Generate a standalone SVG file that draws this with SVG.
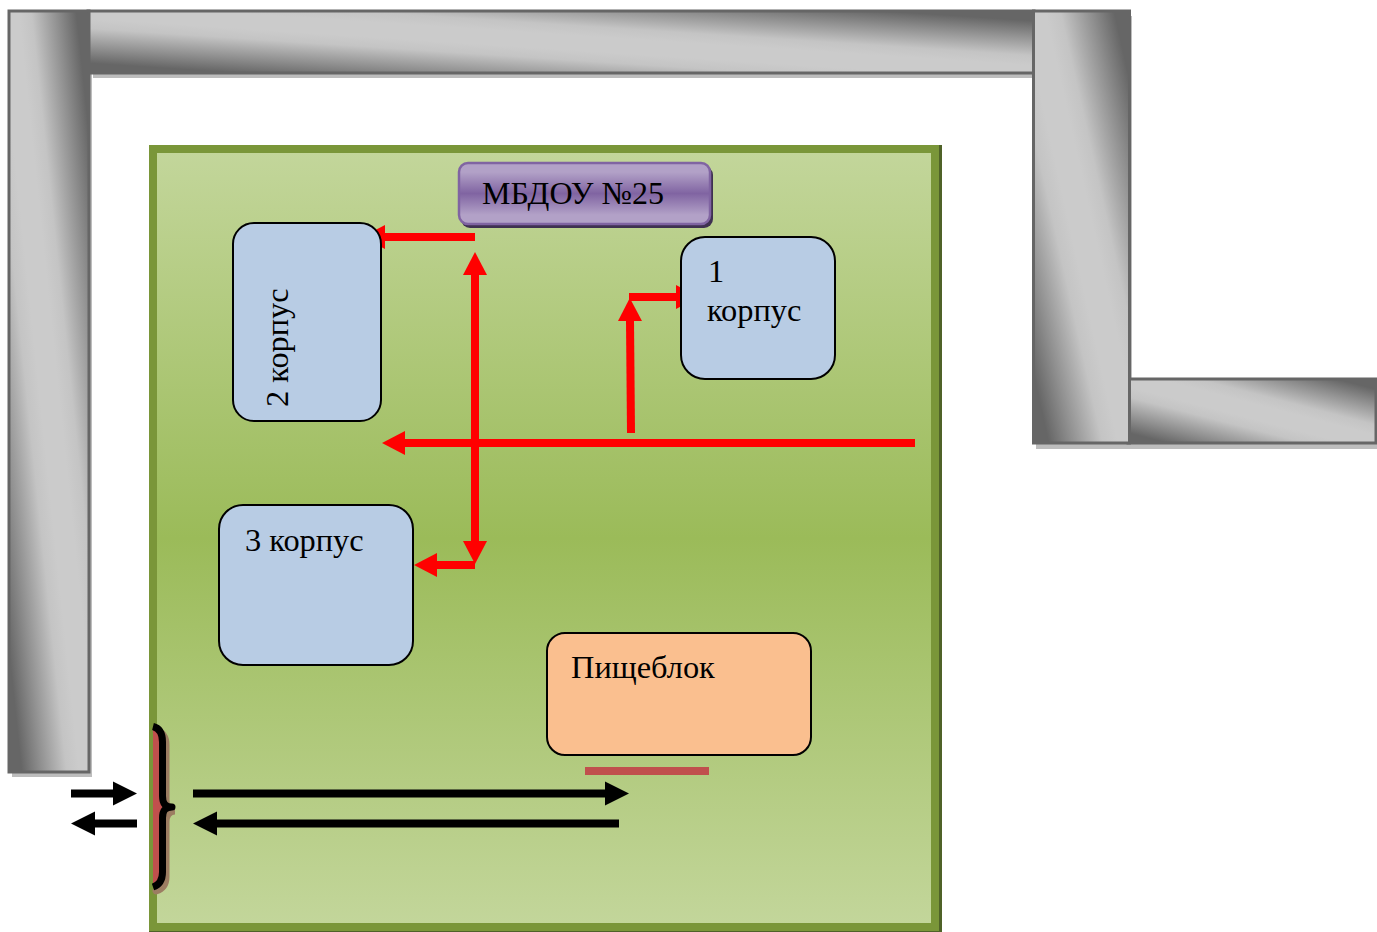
<svg xmlns="http://www.w3.org/2000/svg" width="1377" height="932" viewBox="0 0 1377 932">
<style>
.wall{fill:url(#metal);stroke:#666;stroke-width:3}
.shadow{fill:#bdbdbd}
.box{stroke:#000;stroke-width:2}
.blue{fill:#b8cce4}
.t{font-family:"Liberation Serif","Noto Sans CJK SC",serif;font-size:32.400px;fill:#000}
.red{fill:none;stroke:#f00;stroke-width:8;marker-end:url(#rh)}
.blk{fill:none;stroke:#000;stroke-width:8;marker-end:url(#bh)}
</style>
<defs>
<linearGradient id="metal" x1="0" y1="1" x2="1" y2="0">
<stop offset="0.08" stop-color="#666"/><stop offset="0.2" stop-color="#8f8f8f"/><stop offset="0.36" stop-color="#c4c4c4"/><stop offset="0.44" stop-color="#cbcbcb"/><stop offset="0.56" stop-color="#cbcbcb"/><stop offset="0.64" stop-color="#c4c4c4"/><stop offset="0.8" stop-color="#8f8f8f"/><stop offset="0.92" stop-color="#666"/>
</linearGradient>
<linearGradient id="green" x1="0" y1="0" x2="0" y2="1">
<stop offset="0" stop-color="#c3d69b"/><stop offset="0.5" stop-color="#9bbb59"/><stop offset="1" stop-color="#c3d69b"/>
</linearGradient>
<linearGradient id="purple" x1="0" y1="0" x2="0" y2="1">
<stop offset="0" stop-color="#b2a1c7"/><stop offset="0.15" stop-color="#b2a1c7"/><stop offset="0.5" stop-color="#8064a2"/><stop offset="0.85" stop-color="#b2a1c7"/><stop offset="1" stop-color="#b2a1c7"/>
</linearGradient>
<marker id="rh" markerUnits="userSpaceOnUse" markerWidth="24" markerHeight="24" refX="0" refY="12" orient="auto" viewBox="0 0 24 24" overflow="visible"><path d="M0 0L23 12L0 24Z" fill="#f00"/></marker>
<marker id="bh" markerUnits="userSpaceOnUse" markerWidth="24" markerHeight="24" refX="0" refY="12" orient="auto" viewBox="0 0 24 24" overflow="visible"><path d="M0 0L24 12L0 24Z" fill="#000"/></marker>
</defs>
<g id="walls">
<rect class="shadow" x="93" y="14" width="943" height="64"/>
<rect class="shadow" x="12" y="14" width="80" height="763"/>
<rect class="shadow" x="1036" y="382" width="341" height="67"/>
<rect class="shadow" x="1037" y="16" width="95" height="433"/>
<rect class="wall" x="88" y="11" width="946" height="62"/>
<rect class="wall" x="9" y="11" width="80" height="761"/>
<rect class="wall" x="1128" y="379" width="248" height="64"/>
<rect class="wall" x="1033.500" y="11" width="96" height="432"/>
</g>
<g id="yard">
<rect x="149" y="145" width="793" height="787" fill="#4f6228"/>
<rect x="153" y="149" width="782" height="778" fill="url(#green)" stroke="#7a9639" stroke-width="8"/>
</g>
<g id="connectors">
<path class="red" d="M475 237H385"/>
<path class="red" d="M475 400V275"/>
<path class="red" d="M475 400V541"/>
<path class="red" d="M475 565H437"/>
<path class="red" d="M915 443H405"/>
<path class="red" d="M631 433L630 321"/>
<path class="red" d="M629 297H676"/>
<path class="blk" d="M193 793.500H605"/>
<path class="blk" d="M619 823.500H217"/>
<path class="blk" d="M71 793.500H113"/>
<path class="blk" d="M137 823.500H95"/>
</g>
<g id="mbdou">
<rect x="461" y="166" width="252" height="62" rx="9" fill="#3f3151"/>
<rect x="459" y="163" width="251" height="61" rx="9" fill="url(#purple)" stroke="#8064a2" stroke-width="2.500"/>
<text class="t" x="482" y="204" style="font-size:32px">МБДОУ №25</text>
</g>
<g id="korpus2">
<rect class="box blue" x="233" y="223" width="148" height="198" rx="21"/>
<text class="t" transform="translate(287.500 407) rotate(-90)">2 корпус</text>
</g>
<g id="korpus1">
<rect class="box blue" x="681" y="237" width="154" height="142" rx="24"/>
<text class="t" x="708" y="282">1</text>
<text class="t" x="707" y="320.500">корпус</text>
</g>
<g id="korpus3">
<rect class="box blue" x="219" y="505" width="194" height="160" rx="24"/>
<text class="t" x="245" y="551">3 корпус</text>
</g>
<g id="kitchen">
<rect class="box" x="547" y="633" width="264" height="122" rx="18" fill="#fabf8f"/>
<text class="t" x="571" y="678">Пищеблок</text>
</g>
<rect id="kitchen-bar" x="585" y="767" width="124" height="8" fill="#c0504d"/>
<g id="gate">
<path d="M156 730C162 732 166 736 166 745V800C166 807 169 811 175 811C169 811 166 815 166 822V877C166 885 162 889 156 891" fill="none" stroke="#9c7d62" stroke-width="7" stroke-linecap="round"/>
<path d="M153 726.500C159 728 162.500 733 162.500 742V796C162.500 803 165 807 172 807C165 807 162.500 811 162.500 818V872C162.500 881 159 885 153 887Z" fill="#c0504d"/>
<path d="M153 726.500C159 728 162.500 733 162.500 742V796C162.500 803 165 807 172 807C165 807 162.500 811 162.500 818V872C162.500 881 159 885 153 887" fill="none" stroke="#000" stroke-width="7" stroke-linejoin="round"/>
</g>
</svg>
